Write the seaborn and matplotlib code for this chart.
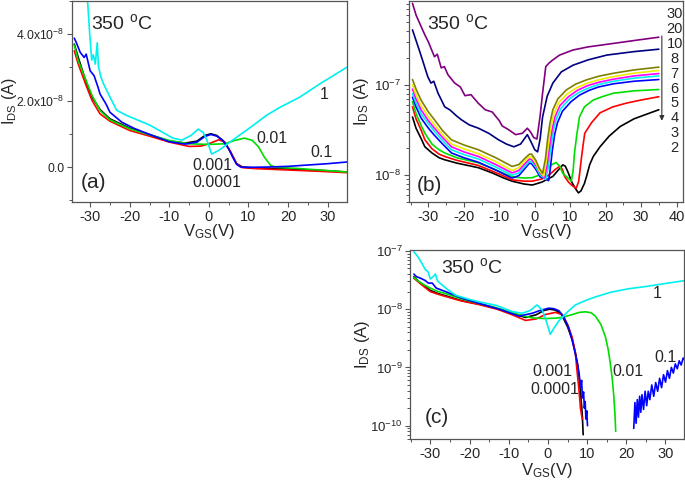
import matplotlib
matplotlib.use("Agg")
import matplotlib.pyplot as plt
import matplotlib.ticker as mticker
import seaborn as sns

# ---------------- panel (a): linear, current in units of 1e-8 A ----------------
a_black_v = [-34, -33, -31, -29.5, -27.5, -25, -20, -15, -10, -6, -3, -1, 0.5, 2, 4, 5.5, 7, 8.5, 12, 20, 28, 34.8]
a_black_i = [3.7, 3.3, 2.55, 2.1, 1.73, 1.45, 1.17, 0.98, 0.78, 0.72, 0.78, 0.95, 1.0, 0.95, 0.75, 0.45, 0.1, 0.0, -0.03, -0.06, -0.1, -0.15]
a_red_v = [-34, -33, -31, -29.5, -27.5, -25, -20, -15, -10, -5, -2, 0, 2.5, 4, 5.5, 7, 8.5, 12, 20, 28, 34.8]
a_red_i = [3.5, 3.1, 2.45, 2.0, 1.6, 1.38, 1.1, 0.93, 0.75, 0.62, 0.63, 0.7, 0.82, 0.75, 0.45, 0.1, -0.02, -0.05, -0.09, -0.13, -0.17]
a_green_v = [-34, -33, -31, -29.5, -27.5, -25, -20, -15, -10, -5, 0, 4, 6.5, 9, 11, 12.6, 14, 15.6, 17, 22, 28, 34.8]
a_green_i = [3.67, 3.2, 2.6, 2.15, 1.7, 1.42, 1.15, 0.97, 0.8, 0.7, 0.68, 0.7, 0.8, 0.87, 0.8, 0.6, 0.3, 0.05, -0.01, -0.04, -0.09, -0.15]
a_blue_v = [-34, -33.5, -32.5, -31.5, -31, -30, -29, -28, -27.5, -26, -25, -22, -19, -15, -10, -6, -3, -1, 0.5, 2, 3.5, 5, 6, 7, 8, 10, 15, 20, 25, 30, 34.8]
a_blue_i = [3.88, 3.75, 3.45, 3.3, 3.4, 2.9, 2.75, 2.4, 2.2, 1.9, 1.65, 1.35, 1.17, 0.98, 0.76, 0.69, 0.75, 0.92, 0.98, 0.93, 0.8, 0.55, 0.3, 0.08, 0.0, -0.01, 0.0, 0.02, 0.06, 0.1, 0.15]
a_cyan_v = [-30.7, -30.1, -29.6, -29.2, -28.7, -28.2, -27.9, -27.3, -26.6, -25.0, -23.3, -20.9, -14.9, -9.1, -6.8, -4.5, -2.7, -1.5, -0.5, 0.7, 2.5, 6, 10, 14.6, 18, 22.9, 28, 34.8]
a_cyan_i = [5.1, 4.0, 3.22, 3.38, 3.1, 3.74, 3.02, 2.72, 2.5, 2.11, 1.71, 1.56, 1.26, 0.87, 0.81, 0.95, 1.14, 1.05, 0.81, 0.39, 0.5, 0.81, 1.15, 1.56, 1.8, 2.1, 2.5, 3.0]

# ---------------- panel (b): log, pulse widths 2..30 ----------------
b_purple_v = [-34.5, -33.5, -32.1, -31, -30, -29, -28.3, -27.5, -26.4, -25.5, -24.5, -22.6, -21, -19.7, -18, -16, -14, -12, -10, -9.2, -7.5, -5.4, -3.5, -2.1, -1.2, -0.3, 0.6, 1.5, 2.2, 3.1, 4, 5.1, 7, 10.8, 15, 22.2, 30, 35]
b_purple_i = [8.1e-7, 6.0e-7, 4.5e-7, 3.6e-7, 3.0e-7, 2.4e-7, 2.06e-7, 2.2e-7, 1.55e-7, 1.6e-7, 1.3e-7, 1.05e-7, 9.5e-8, 7.6e-8, 7.8e-8, 6.3e-8, 5.3e-8, 5.0e-8, 4.0e-8, 3.5e-8, 3.2e-8, 2.8e-8, 2.9e-8, 3.3e-8, 3.0e-8, 2.6e-8, 2.5e-8, 4.5e-8, 8.1e-8, 1.6e-7, 1.75e-7, 1.9e-7, 2.15e-7, 2.45e-7, 2.65e-7, 2.9e-7, 3.2e-7, 3.4e-7]
b_navy_v = [-34.5, -33.7, -32.6, -31.5, -30.2, -29.3, -28.5, -27.3, -26.5, -25.4, -24, -22, -20.7, -18.5, -15.9, -13, -10.2, -8, -5.9, -4, -2.1, -1, 0, 0.8, 1.5, 2.2, 3.5, 5.1, 7.5, 10.8, 15, 20.3, 28, 35]
b_navy_i = [4.1e-7, 3.3e-7, 2.45e-7, 1.8e-7, 1.24e-7, 1.05e-7, 1.1e-7, 8.1e-8, 7.0e-8, 5.7e-8, 5.3e-8, 4.5e-8, 4.1e-8, 3.6e-8, 3.3e-8, 2.9e-8, 2.45e-8, 2.2e-8, 2.05e-8, 2.2e-8, 2.8e-8, 2.3e-8, 1.9e-8, 1.8e-8, 2.5e-8, 4.4e-8, 7.5e-8, 1.05e-7, 1.4e-7, 1.66e-7, 1.9e-7, 2.15e-7, 2.35e-7, 2.5e-7]
b_olive_v = [-34.5, -33.5, -32.1, -30, -28.3, -26, -23.5, -20, -15.9, -11, -6.4, -4.5, -3, -1.5, -0.9, 0.3, 1.2, 2.2, 3.0, 3.6, 4.3, 5.1, 6.5, 8.9, 11.5, 14.6, 18, 22.2, 28, 35]
b_olive_i = [1.15e-7, 9.0e-8, 6.8e-8, 5.0e-8, 4.1e-8, 3.1e-8, 2.45e-8, 2.15e-8, 1.9e-8, 1.55e-8, 1.24e-8, 1.3e-8, 1.5e-8, 1.7e-8, 1.7e-8, 1.45e-8, 1.2e-8, 1.04e-8, 1.5e-8, 2.45e-8, 3.8e-8, 5.3e-8, 7.0e-8, 8.8e-8, 1.02e-7, 1.14e-7, 1.25e-7, 1.35e-7, 1.47e-7, 1.58e-7]
b_yellow_v = [-34.5, -33.5, -32.1, -30, -28.3, -26, -23.5, -20, -15.9, -11, -6.4, -4.5, -3, -1.5, -0.9, 0.3, 1.2, 2.5, 3.2, 3.9, 4.6, 5.4, 6.8, 9.2, 11.8, 14.6, 18, 22.2, 28, 35]
b_yellow_i = [1.0e-7, 7.8e-8, 5.9e-8, 4.4e-8, 3.6e-8, 2.8e-8, 2.2e-8, 1.95e-8, 1.72e-8, 1.4e-8, 1.12e-8, 1.2e-8, 1.4e-8, 1.6e-8, 1.58e-8, 1.35e-8, 1.12e-8, 9.7e-9, 1.4e-8, 2.3e-8, 3.5e-8, 4.8e-8, 6.4e-8, 8.0e-8, 9.3e-8, 1.04e-7, 1.14e-7, 1.24e-7, 1.35e-7, 1.45e-7]
b_magenta_v = [-34.5, -33.5, -32.1, -30, -28.3, -26, -23.5, -20, -15.9, -11, -6.4, -4.5, -3, -1.5, -0.9, 0.3, 1.5, 2.8, 3.5, 4.2, 4.9, 5.7, 7.1, 9.5, 12, 14.8, 18, 22.2, 28, 35]
b_magenta_i = [9.0e-8, 7.0e-8, 5.3e-8, 4.0e-8, 3.3e-8, 2.6e-8, 2.05e-8, 1.8e-8, 1.6e-8, 1.3e-8, 1.05e-8, 1.12e-8, 1.3e-8, 1.5e-8, 1.48e-8, 1.28e-8, 1.05e-8, 9.3e-9, 1.3e-8, 2.1e-8, 3.2e-8, 4.4e-8, 5.9e-8, 7.4e-8, 8.7e-8, 9.8e-8, 1.07e-7, 1.16e-7, 1.26e-7, 1.34e-7]
b_cyan_v = [-34.5, -33.5, -32.1, -30, -28.3, -26, -23.5, -20, -15.9, -11, -6.4, -4.5, -3, -1.5, -0.9, 0.3, 1.5, 3.1, 3.8, 4.5, 5.2, 6.0, 7.4, 9.8, 12.3, 15, 18, 22.2, 28, 35]
b_cyan_i = [8.0e-8, 6.3e-8, 4.8e-8, 3.7e-8, 3.05e-8, 2.4e-8, 1.9e-8, 1.68e-8, 1.5e-8, 1.22e-8, 9.9e-9, 1.05e-8, 1.22e-8, 1.42e-8, 1.4e-8, 1.22e-8, 1.0e-8, 8.9e-9, 1.2e-8, 1.95e-8, 3.0e-8, 4.1e-8, 5.5e-8, 7.0e-8, 8.2e-8, 9.2e-8, 1.01e-7, 1.1e-7, 1.19e-7, 1.26e-7]
b_blue_v = [-34.5, -33.5, -32.1, -30, -28.3, -26, -23.5, -20, -15.9, -11, -6.4, -4.5, -3, -1.5, -0.9, 0.3, 1.5, 3.2, 3.9, 4.3, 4.9, 5.6, 6.4, 7.8, 10.2, 12.6, 15.3, 18, 22.2, 28, 35]
b_blue_i = [7.3e-8, 5.7e-8, 4.3e-8, 3.3e-8, 2.75e-8, 2.2e-8, 1.75e-8, 1.55e-8, 1.38e-8, 1.13e-8, 9.2e-9, 9.8e-9, 1.15e-8, 1.35e-8, 1.33e-8, 1.15e-8, 9.5e-9, 9.0e-9, 8.6e-9, 1.1e-8, 1.8e-8, 2.8e-8, 3.8e-8, 5.1e-8, 6.5e-8, 7.7e-8, 8.7e-8, 9.5e-8, 1.03e-7, 1.1e-7, 1.15e-7]
b_green_v = [-34.5, -33.5, -32, -31, -29, -27, -25.4, -22, -18, -15.9, -12, -9, -6.4, -3, -0.7, 1.5, 3.1, 4.8, 6, 7, 7.9, 9, 10.3, 10.8, 11.2, 11.8, 12.6, 14, 16.5, 19, 22.2, 28, 35]
b_green_i = [6.5e-8, 4.8e-8, 3.5e-8, 2.9e-8, 2.2e-8, 1.9e-8, 1.75e-8, 1.55e-8, 1.42e-8, 1.36e-8, 1.18e-8, 1.05e-8, 9.5e-9, 9.2e-9, 9.3e-9, 1.0e-8, 1.14e-8, 1.3e-8, 1.37e-8, 1.25e-8, 1.04e-8, 9.5e-9, 8.5e-9, 1.1e-8, 1.74e-8, 2.7e-8, 4.4e-8, 5.7e-8, 6.8e-8, 7.4e-8, 8.1e-8, 8.6e-8, 8.9e-8]
b_red_v = [-34.5, -33.5, -32, -31, -29, -27, -25.4, -22, -18, -15.9, -12, -9, -6.4, -3, -0.7, 2, 4.1, 5.8, 7, 7.8, 8.4, 9.5, 10.5, 11.7, 12.4, 13.1, 13.6, 14.1, 16, 18.4, 22, 26, 30, 35]
b_red_i = [5.7e-8, 4.2e-8, 3.1e-8, 2.45e-8, 1.95e-8, 1.7e-8, 1.6e-8, 1.45e-8, 1.33e-8, 1.27e-8, 1.1e-8, 9.8e-9, 8.8e-9, 8.5e-9, 8.5e-9, 9.0e-9, 1.0e-8, 1.15e-8, 1.24e-8, 1.15e-8, 9.6e-9, 8.3e-9, 7.6e-9, 7.1e-9, 8.5e-9, 1.47e-8, 2.1e-8, 2.9e-8, 3.8e-8, 4.9e-8, 5.7e-8, 6.3e-8, 6.8e-8, 7.4e-8]
b_black_v = [-34.5, -33.5, -32, -31, -29, -27, -25.4, -22, -18, -15.9, -12, -9, -6.4, -3, -0.7, 2, 5.1, 6.8, 7.9, 8.6, 9.3, 10.5, 11.5, 12.3, 13, 14, 14.6, 15.5, 16.5, 18.4, 21, 24.1, 28, 32, 35]
b_black_i = [4.4e-8, 3.3e-8, 2.5e-8, 2.05e-8, 1.75e-8, 1.55e-8, 1.47e-8, 1.35e-8, 1.25e-8, 1.2e-8, 1.05e-8, 9.3e-9, 8.5e-9, 7.9e-9, 7.7e-9, 8.3e-9, 9.6e-9, 1.15e-8, 1.29e-8, 1.25e-8, 1.09e-8, 8.2e-9, 7.0e-9, 6.3e-9, 6.6e-9, 8.0e-9, 9.6e-9, 1.3e-8, 1.6e-8, 2.05e-8, 2.7e-8, 3.45e-8, 4.2e-8, 4.8e-8, 5.3e-8]
b_labels = ["30", "20", "10", "8", "7", "6", "5", "4", "3", "2"]

# ---------------- panel (c): log version of (a) ----------------
c_black_v = [-34.2, -33, -31.5, -30, -28, -26.1, -22, -17.6, -13, -9.1, -5.7, -3, -1, 0.5, 2, 3.5, 5, 6.2, 7, 7.6, 8.0, 8.3, 8.6, 8.8, 8.9, 9.0]
c_black_i = [3.6e-8, 3.0e-8, 2.5e-8, 2.1e-8, 1.85e-8, 1.7e-8, 1.4e-8, 1.22e-8, 1.02e-8, 8.4e-9, 7.2e-9, 8.0e-9, 9.5e-9, 1.0e-8, 9.6e-9, 8.0e-9, 5.0e-9, 3.0e-9, 1.8e-9, 1.1e-9, 6.5e-10, 3.8e-10, 2.2e-10, 1.4e-10, 1.0e-10, 7.0e-11]
c_red_v = [-34.2, -33, -31.5, -30, -28, -26.1, -22, -17.6, -13, -9.1, -5.7, -3, -0.6, 1.9, 3.6, 5, 6.2, 7, 7.4, 7.8, 8.1, 8.3, 8.6, 8.8]
c_red_i = [3.4e-8, 2.9e-8, 2.4e-8, 2.0e-8, 1.8e-8, 1.65e-8, 1.38e-8, 1.2e-8, 1.0e-8, 8.0e-9, 6.4e-9, 6.8e-9, 8.1e-9, 8.8e-9, 8.1e-9, 5.5e-9, 3.3e-9, 1.8e-9, 9.1e-10, 5.0e-10, 3.0e-10, 2.0e-10, 1.5e-10, 1.3e-10]
c_green_v = [-34.2, -33, -31.5, -30, -28, -26.1, -22, -17.6, -13, -9.1, -6, -4, -1, 2, 4, 6, 8, 9.6, 11, 12.1, 13.5, 14.7, 15.4, 15.9, 16.4, 16.8, 17.1, 17.3]
c_green_i = [3.5e-8, 3.0e-8, 2.6e-8, 2.3e-8, 2.0e-8, 1.85e-8, 1.5e-8, 1.26e-8, 1.05e-8, 8.7e-9, 7.6e-9, 7.1e-9, 6.9e-9, 7.0e-9, 7.3e-9, 8.0e-9, 8.8e-9, 9.0e-9, 8.7e-9, 7.6e-9, 5.5e-9, 3.3e-9, 2.0e-9, 1.2e-9, 6.5e-10, 3.3e-10, 1.6e-10, 8.0e-11]
c_blue_v = [-34.2, -33.5, -32.5, -31.3, -30.5, -29.5, -28.5, -26.1, -22, -17.6, -12, -7.4, -4, -2, 0.2, 1.5, 2.8, 4, 5.3, 6.2, 7, 7.6, 8.0, 8.3, 8.6, 8.8, 9.1, 9.3, 9.5, 9.7, 9.9, 10.1]
c_blue_i = [4.0e-8, 3.6e-8, 3.4e-8, 3.1e-8, 2.8e-8, 2.8e-8, 2.3e-8, 2.0e-8, 1.55e-8, 1.26e-8, 9.8e-9, 7.6e-9, 8.5e-9, 9.5e-9, 1.04e-8, 1.02e-8, 9.4e-9, 7.5e-9, 4.8e-9, 2.9e-9, 1.7e-9, 1.1e-9, 7.5e-10, 4.5e-10, 6.0e-10, 3.0e-10, 3.8e-10, 2.0e-10, 2.6e-10, 1.3e-10, 1.8e-10, 1.0e-10]
c_blue2_v = [21.9, 22.2, 22.5, 22.8, 23.1, 23.4, 23.7, 24.0, 24.4, 24.8, 25.2, 25.6, 26.0, 26.5, 27.0, 27.5, 28.0, 28.5, 29.0, 29.5, 30.0, 30.5, 31.0, 31.5, 32.0, 32.5, 33.0, 33.5, 34.0, 34.5, 35.0]
c_blue2_i = [9e-11, 2.5e-10, 1.1e-10, 2.8e-10, 1.4e-10, 3.2e-10, 1.7e-10, 3.4e-10, 1.9e-10, 3.9e-10, 2.2e-10, 3.9e-10, 2.8e-10, 5.0e-10, 3.2e-10, 5.5e-10, 3.9e-10, 6.5e-10, 4.5e-10, 7.5e-10, 5.6e-10, 8.8e-10, 6.5e-10, 1.0e-9, 8.0e-10, 1.15e-9, 9.5e-10, 1.3e-9, 1.1e-9, 1.45e-9, 1.3e-9]
c_cyan_v = [-34.2, -33.2, -32.2, -31.3, -30.6, -30.0, -29.3, -28.7, -28.2, -27.8, -27.0, -25.5, -23.6, -20.5, -17.6, -13, -9.1, -6.6, -4.5, -2.8, -1.5, -0.5, 0.6, 1.6, 2.8, 5, 7, 9.5, 12.1, 16, 20.6, 25, 29.1, 35]
c_cyan_i = [9.7e-8, 8.0e-8, 6.2e-8, 4.8e-8, 4.4e-8, 3.3e-8, 3.6e-8, 4.0e-8, 3.1e-8, 2.9e-8, 2.6e-8, 2.15e-8, 1.74e-8, 1.5e-8, 1.34e-8, 1.15e-8, 9.1e-9, 8.5e-9, 9.5e-9, 1.18e-8, 9.8e-9, 6.5e-9, 3.7e-9, 4.8e-9, 6.3e-9, 9.0e-9, 1.18e-8, 1.4e-8, 1.62e-8, 1.95e-8, 2.24e-8, 2.45e-8, 2.7e-8, 3.1e-8]

BLACK, RED, GREEN, BLUE, CYAN = "#000000", "#ff0000", "#00dd00", "#0000ff", "#00f0f0"

sns.set_style("ticks")
plt.rcParams["font.family"] = ["Liberation Sans", "DejaVu Sans"]
plt.rcParams["mathtext.fontset"] = "custom"
plt.rcParams["mathtext.rm"] = "Liberation Sans"
plt.rcParams["mathtext.it"] = "Liberation Sans:italic"
plt.rcParams["mathtext.bf"] = "Liberation Sans:bold"
plt.rcParams["axes.unicode_minus"] = False

fig = plt.figure(figsize=(6.85, 4.9), dpi=100)
ax_a = fig.add_axes([0.105, 0.588, 0.401, 0.41])
ax_b = fig.add_axes([0.597, 0.588, 0.4, 0.41])
ax_c = fig.add_axes([0.599, 0.104, 0.4, 0.386])

LW = 1.2


def draw(ax, v, i, color):
    sns.lineplot(x=v, y=i, ax=ax, color=color, lw=LW, sort=False, estimator=None, legend=False)


def style(ax, ylab_x, xlab_y, ysize=9.5, ylab_size=12):
    for s in ax.spines.values():
        s.set_color("#555555")
        s.set_linewidth(0.9)
    ax.tick_params(which="both", direction="out", color="#555555", pad=2)
    ax.tick_params(axis="x", labelsize=10.5)
    ax.tick_params(axis="y", labelsize=ysize)
    ax.tick_params(which="major", length=3.5, width=0.8)
    ax.tick_params(which="minor", length=2, width=0.7)
    ax.xaxis.set_minor_locator(mticker.MultipleLocator(5))
    ax.set_xlabel("V$_{\\mathregular{GS}}$(V)", fontsize=12)
    ax.set_ylabel("I$_{\\mathregular{DS}}$ (A)", fontsize=ylab_size)
    ax.yaxis.set_label_coords(ylab_x, 0.5)
    ax.xaxis.set_label_coords(0.5, xlab_y)


# (a)
for v, i, c in [(a_black_v, a_black_i, BLACK), (a_red_v, a_red_i, RED), (a_green_v, a_green_i, GREEN),
                (a_blue_v, a_blue_i, BLUE), (a_cyan_v, a_cyan_i, CYAN)]:
    draw(ax_a, v, i, c)
ax_a.set_xlim(-34.6, 34.8)
ax_a.set_ylim(-1.05, 5.0)
ax_a.set_xticks([-30, -20, -10, 0, 10, 20, 30])
ax_a.set_yticks([0, 2, 4])
ax_a.yaxis.set_minor_locator(mticker.MultipleLocator(1))
ax_a.yaxis.set_major_formatter(mticker.FuncFormatter(
    lambda y, p: "0.0" if y == 0 else "%.1fx10$^{\\mathregular{-8}}$" % y))
style(ax_a, -0.193, -0.1, ysize=8.8, ylab_size=11.5)
ax_a.text(-22, 4.33, "350 $^{\\mathregular{o}}$C", fontsize=14, ha="center", va="center")
ax_a.text(-29.2, -0.48, "(a)", fontsize=15, ha="center", va="center")
ax_a.text(29.2, 2.17, "1", fontsize=11.5, ha="center", va="center")
ax_a.text(16, 0.87, "0.01", fontsize=11.5, ha="center", va="center")
ax_a.text(28.5, 0.45, "0.1", fontsize=11.5, ha="center", va="center")
ax_a.text(0.8, 0.06, "0.001", fontsize=11.5, ha="center", va="center")
ax_a.text(2, -0.48, "0.0001", fontsize=11.5, ha="center", va="center")

# (b)
b_curves = [(b_black_v, b_black_i, BLACK), (b_red_v, b_red_i, RED), (b_green_v, b_green_i, GREEN),
            (b_blue_v, b_blue_i, BLUE), (b_cyan_v, b_cyan_i, CYAN), (b_magenta_v, b_magenta_i, "#ff00ff"),
            (b_yellow_v, b_yellow_i, "#eeee00"), (b_olive_v, b_olive_i, "#808000"),
            (b_navy_v, b_navy_i, "#000080"), (b_purple_v, b_purple_i, "#800080")]
for v, i, c in b_curves:
    draw(ax_b, v, i, c)
ax_b.set_yscale("log")
ax_b.set_xlim(-35.5, 41.8)
ax_b.set_ylim(5.0e-9, 8.6e-7)
ax_b.set_xticks([-30, -20, -10, 0, 10, 20, 30, 40])
ax_b.yaxis.set_major_locator(mticker.FixedLocator([1e-8, 1e-7]))
ax_b.yaxis.set_minor_locator(mticker.LogLocator(base=10, subs=range(2, 10)))
ax_b.yaxis.set_minor_formatter(mticker.NullFormatter())
style(ax_b, -0.14, -0.1)
ax_b.text(-21.7, 4.9e-7, "350 $^{\\mathregular{o}}$C", fontsize=14, ha="center", va="center")
ax_b.text(-29.7, 7.7e-9, "(b)", fontsize=15, ha="center", va="center")
for k, lab in enumerate(b_labels):
    ax_b.text(0.97, 1 - (13 + 15 * k) / 202, lab, transform=ax_b.transAxes, fontsize=10.5, ha="center", va="center")
ax_b.annotate("", xy=(0.923, 0.39), xytext=(0.923, 0.84), xycoords="axes fraction",
              arrowprops=dict(arrowstyle="-|>", color="#333333", lw=0.8, mutation_scale=7))

# (c)
for v, i, c in [(c_black_v, c_black_i, BLACK), (c_red_v, c_red_i, RED), (c_green_v, c_green_i, GREEN),
                (c_blue_v, c_blue_i, BLUE), (c_blue2_v, c_blue2_i, BLUE), (c_cyan_v, c_cyan_i, CYAN)]:
    draw(ax_c, v, i, c)
ax_c.set_yscale("log")
ax_c.set_xlim(-35.1, 34.8)
ax_c.set_ylim(5.9e-11, 1.04e-7)
ax_c.set_xticks([-30, -20, -10, 0, 10, 20, 30])
ax_c.yaxis.set_major_locator(mticker.FixedLocator([1e-10, 1e-9, 1e-8, 1e-7]))
ax_c.yaxis.set_minor_locator(mticker.LogLocator(base=10, subs=range(2, 10)))
ax_c.yaxis.set_minor_formatter(mticker.NullFormatter())
style(ax_c, -0.14, -0.118)
ax_c.text(-19.3, 5.2e-8, "350 $^{\\mathregular{o}}$C", fontsize=14, ha="center", va="center")
ax_c.text(-28.4, 1.36e-10, "(c)", fontsize=15, ha="center", va="center")
ax_c.text(27.9, 1.85e-8, "1", fontsize=11.5, ha="center", va="center")
ax_c.text(30, 1.5e-9, "0.1", fontsize=11.5, ha="center", va="center")
ax_c.text(20.3, 8.6e-10, "0.01", fontsize=11.5, ha="center", va="center")
ax_c.text(1.1, 8.6e-10, "0.001", fontsize=11.5, ha="center", va="center")
ax_c.text(1.7, 4.2e-10, "0.0001", fontsize=11.5, ha="center", va="center")

fig.savefig("out.png", dpi=100)
